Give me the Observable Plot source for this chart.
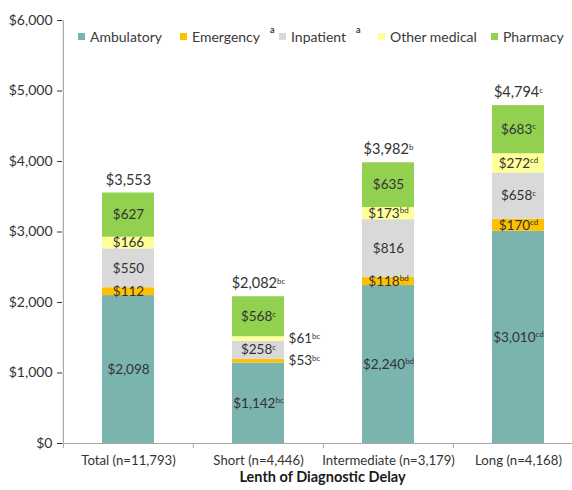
<!DOCTYPE html>
<html>
<head>
<meta charset="utf-8">
<script src="https://cdn.jsdelivr.net/npm/d3@7"></script>
<script src="https://cdn.jsdelivr.net/npm/@observablehq/plot@0.6"></script>
<style>
  html, body { margin: 0; padding: 0; background: #fff; }
  #wrap { position: relative; width: 572px; height: 490px; overflow: hidden; font-family: Lato, "Liberation Sans", sans-serif; }
  .leg { position: absolute; top: 28px; display: flex; align-items: center; font-size: 14px; color: #3a3a3a; white-space: nowrap; }
  .leg .sw { width: 7px; height: 7px; margin-right: 5px; }
  .leg sup { font-size: 9px; font-weight: bold; margin-left: 10px; position: relative; top: -7px; }
</style>
</head>
<body>
<div id="wrap"></div>
<script>
// ---- data ----
const categories = ["Total (n=11,793)", "Short (n=4,446)", "Intermediate (n=3,179)", "Long (n=4,168)"];
const components = ["Ambulatory", "Emergency", "Inpatient", "Other medical", "Pharmacy"];
const legendSup = ["", "a", "a", "", ""];
const colors = ["#7bb3af", "#ffc000", "#d9d9d9", "#ffff99", "#92d050"];

const ambulatory   = [2098, 1142, 2240, 3010];
const emergency    = [112, 53, 118, 170];
const inpatient    = [550, 258, 816, 658];
const otherMedical = [166, 61, 173, 272];
const pharmacy     = [627, 568, 635, 683];
const totals       = [3553, 2082, 3982, 4794];

const ambulatorySup   = ["", "bc", "bd", "cd"];
const emergencySup    = ["", "bc", "bd", "cd"];
const inpatientSup    = ["", "c", "", "c"];
const otherMedicalSup = ["", "bc", "bd", "cd"];
const pharmacySup     = ["", "c", "", "c"];
const totalSup        = ["", "bc", "b", "c"];

const yTicks = [0, 1000, 2000, 3000, 4000, 5000, 6000];
const xTitle = "Lenth of Diagnostic Delay";

// ---- build table ----
const series = [ambulatory, emergency, inpatient, otherMedical, pharmacy];
const sups = [ambulatorySup, emergencySup, inpatientSup, otherMedicalSup, pharmacySup];
const rows = [];
categories.forEach((cat, i) => {
  let acc = 0;
  components.forEach((comp, j) => {
    const v = series[j][i];
    rows.push({cat, comp, value: v, y1: acc, y2: acc + v, sup: sups[j][i]});
    acc += v;
  });
});
const totalRows = categories.map((cat, i) => ({cat, value: totals[i], sup: totalSup[i], top: rows.filter(r => r.cat === cat).reduce((a, r) => a + r.value, 0)}));

const fmt = v => "$" + d3.format(",")(v);
const lab = d => fmt(d.value) + (d.sup ? "^" + d.sup : "");

// ---- layout ----
const W = 572, H = 490, mTop = 20, mBottom = 47, mLeft = 62;
const X0 = mLeft, X1 = 583;
const step = (X1 - X0) / categories.length;
const bandW = step * 0.4;
const pxPerUnit = (H - mBottom - mTop) / 6000;
const axisColor = "#a6a6a6";
const textColor = "#333333";

const chart = Plot.plot({
  width: W, height: H,
  marginTop: mTop, marginBottom: mBottom, marginLeft: mLeft, marginRight: 0,
  style: {fontFamily: "Lato, 'Liberation Sans', sans-serif", fontSize: "13.2px", color: textColor, background: "#fff"},
  x: {domain: categories, range: [X0, X1], paddingInner: 0.6, paddingOuter: 0.3, tickSize: 0, tickPadding: 12, label: null},
  y: {domain: [0, 6000], ticks: yTicks, tickFormat: fmt, tickSize: 5, tickPadding: 5, label: null},
  color: {domain: components, range: colors},
  marks: [
    Plot.barY(rows, {x: "cat", y1: "y1", y2: "y2", fill: "comp", inset: 0}),
    Plot.ruleY([0], {stroke: axisColor, strokeWidth: 1.2}),
    Plot.ruleX([categories[0]], {x: d => d, dx: -step / 2, y1: 0, y2: 6000, stroke: axisColor, strokeWidth: 1.2}),
    Plot.ruleX(categories, {x: d => d, dx: -step / 2, y1: 0, y2: -5 / pxPerUnit, stroke: axisColor}),
    Plot.text(rows.filter(d => d.value >= 100), {x: "cat", y: d => (d.y1 + d.y2) / 2, text: lab, fontSize: 13.5, fill: textColor}),
    Plot.text(rows.filter(d => d.value < 100), {x: "cat", y: d => (d.y1 + d.y2) / 2, text: lab, fontSize: 13.5, fill: textColor, textAnchor: "start", dx: bandW / 2 + 4}),
    Plot.text(totalRows, {x: "cat", y: "top", text: lab, dy: -13, fontSize: 14.5, fill: textColor, ariaLabel: "totals"}),
    Plot.text([xTitle], {frameAnchor: "bottom", dy: 38, dx: 5, text: d => d, fontSize: 14.5, fontWeight: "bold", fill: "#1a1a1a"})
  ]
});

// y tick label size
chart.querySelectorAll('g[aria-label="y-axis tick label"] text, g[aria-label="y-axis"] text').forEach(t => t.setAttribute("font-size", "14px"));
const yg = chart.querySelector('g[aria-label="y-axis tick label"]');
if (yg) yg.setAttribute("font-size", "14px");

// superscripts
chart.querySelectorAll("text").forEach(t => {
  const s = t.textContent;
  if (!s.includes("^")) return;
  const [main, sup] = s.split("^");
  const isTotal = t.closest('g[aria-label="totals"]') !== null;
  t.textContent = "";
  const a = document.createElementNS("http://www.w3.org/2000/svg", "tspan");
  a.textContent = main;
  const b = document.createElementNS("http://www.w3.org/2000/svg", "tspan");
  b.textContent = sup;
  b.setAttribute("font-size", isTotal ? "9.5px" : "8px");
  b.setAttribute("dy", isTotal ? "-5.5" : "-4.5");
  if (isTotal && sup !== "c") b.setAttribute("font-weight", "bold");
  t.appendChild(a); t.appendChild(b);
});

const wrap = document.getElementById("wrap");
wrap.appendChild(chart);

// legend
const legLeft = [78, 180, 279, 378, 491];
components.forEach((c, i) => {
  const el = document.createElement("div");
  el.className = "leg";
  el.style.left = legLeft[i] + "px";
  const sw = document.createElement("span");
  sw.className = "sw";
  sw.style.background = colors[i];
  el.appendChild(sw);
  el.appendChild(document.createTextNode(c));
  if (legendSup[i]) {
    const sp = document.createElement("sup");
    sp.textContent = legendSup[i];
    el.appendChild(sp);
  }
  wrap.appendChild(el);
});
</script>
</body>
</html>
